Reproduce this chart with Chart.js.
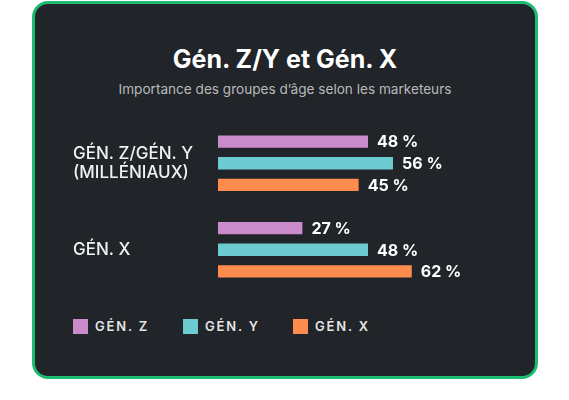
<!DOCTYPE html>
<html lang="fr">
<head>
<meta charset="utf-8">
<script src="https://cdn.jsdelivr.net/npm/chart.js@4"></script>
<style>
  body { margin: 0; background: #ffffff; width: 569px; height: 400px; overflow: hidden; font-family: Inter, "Noto Sans", sans-serif; }
  .card { position: absolute; left: 32px; top: 1px; width: 506px; height: 378px; box-sizing: border-box;
          border: 3px solid #1cbc72; border-radius: 16px; background: #212428; }
  .title { position: absolute; left: 32px; width: 506px; top: 44px; text-align: center; color: #ffffff;
           font-size: 25px; font-weight: 700; line-height: 30px; }
  .subtitle { position: absolute; left: 32px; width: 506px; top: 79px; text-align: center; color: #b9babc;
              font-size: 13.6px; font-weight: 400; line-height: 20px; }
  .chart-wrap { position: absolute; left: 33px; top: 100px; width: 500px; height: 200px; }
  .legend { position: absolute; left: 73px; top: 319px; display: flex; }
  .legend-item { width: 110px; display: flex; align-items: center; color: #e4e4e4; font-size: 13px;
                 font-weight: 600; letter-spacing: 1.8px; line-height: 15px; }
  .legend-item span.box { width: 15px; height: 15px; margin-right: 7px; display: inline-block; }
</style>
</head>
<body>
<div class="card"></div>
<div class="title">Gén. Z/Y et Gén. X</div>
<div class="subtitle">Importance des groupes d’âge selon les marketeurs</div>
<div class="chart-wrap"><canvas id="chart"></canvas></div>
<div class="legend" id="legend"></div>

<script>
// données
const categories = [["GÉN. Z/GÉN. Y", "(MILLÉNIAUX)"], ["GÉN. X"]];
const seriesNames = ["GÉN. Z", "GÉN. Y", "GÉN. X"];
const genZ = [48, 27];
const genY = [56, 48];
const genX = [45, 62];
const seriesColors = ["#c98bca", "#6ccbd0", "#ff8c4d"];

const seriesValues = [genZ, genY, genX];

// légende en HTML
let legend = document.getElementById('legend');
seriesNames.forEach((name, i) => {
    legend.innerHTML += `<div class="legend-item"><span class="box" style="background:${seriesColors[i]}"></span>${name}</div>`;
});

// étiquettes de valeur au bout des barres
const valueLabels = {
    id: 'valueLabels',
    afterDatasetsDraw(chart) {
        const ctx = chart.ctx;
        ctx.save();
        ctx.font = '700 16px Inter, "Noto Sans", sans-serif';
        ctx.fillStyle = '#ffffff';
        ctx.textAlign = 'left';
        ctx.textBaseline = 'middle';
        chart.data.datasets.forEach((ds, i) => {
            chart.getDatasetMeta(i).data.forEach((bar, j) => {
                ctx.fillText(ds.data[j] + ' %', bar.x + 9, bar.y + 1);
            });
        });
        ctx.restore();
    }
};

let ctx = document.getElementById('chart').getContext('2d');
let chart = new Chart(ctx, {
    type: 'bar',
    data: {
        labels: categories,
        datasets: seriesNames.map((name, i) => ({
            label: name,
            data: seriesValues[i],
            backgroundColor: seriesColors[i],
            borderWidth: 0,
            categoryPercentage: 0.75,
            barPercentage: 0.575
        }))
    },
    options: {
        indexAxis: 'y',
        responsive: true,
        maintainAspectRatio: false,
        animation: false,
        layout: { padding: { left: 40, right: 2.5, top: 20, bottom: 7 } },
        scales: {
            x: { display: false, min: 0, max: 100 },
            y: {
                grid: { display: false, drawTicks: false },
                border: { display: false },
                ticks: {
                    crossAlign: 'far',
                    color: '#f2f2f2',
                    padding: 0,
                    font: { family: 'Inter, "Noto Sans", sans-serif', size: 17, weight: '500', lineHeight: 1.12 }
                },
                afterFit: (axis) => {
                    axis.width = 145;
                    // pas de marge automatique due aux libellés sur deux lignes
                    axis.paddingTop = 0;
                    axis.paddingBottom = 0;
                }
            }
        },
        plugins: { legend: { display: false }, tooltip: { enabled: false } }
    },
    plugins: [valueLabels]
});
</script>
</body>
</html>
